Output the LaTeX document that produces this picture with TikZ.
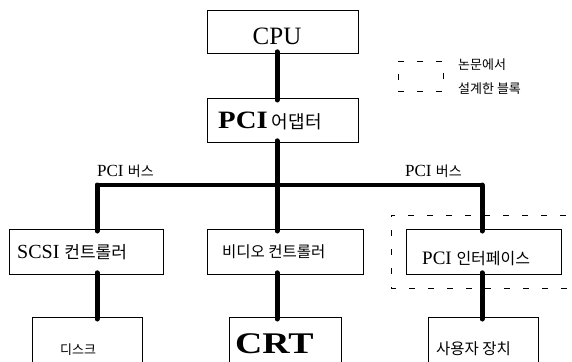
\documentclass[tikz,border=0pt]{standalone}
\usepackage{fontspec}
\setmainfont{Liberation Serif}
\newfontfamily\kr{Noto Sans CJK KR}
\begin{document}
\begin{tikzpicture}[x=1pt,y=-1pt,
  box/.style={draw,line width=0.8pt,inner sep=0pt,anchor=north west},
  txt/.style={inner sep=0pt,anchor=base west},
  vbus/.style={line width=5pt,line cap=round},
  hbus/.style={line width=4pt,line cap=round,line join=round},
  dbox/.style={line width=0.7pt,dash pattern=on 6pt off 13pt}]
\useasboundingbox (0,0) rectangle (572,361);
\clip (0,0) rectangle (572,361);
% boxes
\node[box,minimum width=151pt,minimum height=43pt] (cpu) at (207,10) {};
\node[box,minimum width=151pt,minimum height=44pt] (adp) at (207,98) {};
\node[box,minimum width=154pt,minimum height=45pt] (scsi) at (9,229) {};
\node[box,minimum width=156pt,minimum height=45pt] (vid) at (207,229) {};
\node[box,minimum width=155pt,minimum height=45pt] (pif) at (406,229) {};
\node[box,minimum width=110pt,minimum height=60pt] (disk) at (32,317) {};
\node[box,minimum width=112pt,minimum height=60pt] (crt) at (229,317) {};
\node[box,minimum width=110pt,minimum height=60pt] (usr) at (428,317) {};
% texts
\node[inner sep=0pt,anchor=base] (tcpu) at (277,45) {\fontsize{25}{25}\selectfont CPU};
\node[txt] (tadp) at (218,128) {\fontsize{25}{25}\selectfont\scalebox{1.15}[1]{\bfseries PCI}\,{\kr\fontsize{18}{18}\selectfont 어댑터}};
\node[txt] (tscsi) at (17,258) {\fontsize{20}{20}\selectfont SCSI {\kr\fontsize{17}{17}\selectfont 컨트롤러}};
\node[txt] (tvid) at (222,257) {\kr\fontsize{15.5}{15.5}\selectfont 비디오 컨트롤러};
\node[txt] (tpif) at (422,264) {\fontsize{19}{19}\selectfont PCI {\kr\fontsize{16}{16}\selectfont 인터페이스}};
\node[txt] (tdisk) at (60,354) {\kr\fontsize{13}{13}\selectfont 디스크};
\node[txt] (tcrt) at (235,353) {\fontsize{30}{30}\selectfont\scalebox{1.26}[1]{\bfseries CRT}};
\node[txt] (tusr) at (436,354) {\kr\fontsize{15.5}{15.5}\selectfont 사용자 장치};
\node[txt] (tbusl) at (97,176) {\fontsize{17}{17}\selectfont PCI {\kr\fontsize{14}{14}\selectfont 버스}};
\node[txt] (tbusr) at (405,176) {\fontsize{17}{17}\selectfont PCI {\kr\fontsize{14}{14}\selectfont 버스}};
% legend
\node[draw,dbox,inner sep=0pt,minimum width=45pt,minimum height=30pt,anchor=north west] (leg) at (398,61) {};
\node[txt] (leg1) at (458,70) {\kr\fontsize{13}{13}\selectfont 논문에서};
\node[txt] (leg2) at (458,93) {\kr\fontsize{13}{13}\selectfont 설계한 블록};
% designed block dashed frame
\coordinate (dtl) at (391,215);
\coordinate (dbr) at (585,288);
\draw[dbox] (dbr |- dtl) -- (dtl) -- (dtl |- dbr) -- (dbr);
% bus coordinates
\coordinate (bl) at (97,185);
\coordinate (bc) at (277,185);
\coordinate (br) at (482,185);
% connectors
\draw[vbus] ([yshift=2pt]cpu.south -| bc) -- ([yshift=-2pt]adp.north -| bc);
\draw[vbus] ([yshift=2pt]adp.south -| bc) -- ([yshift=-2pt]vid.north -| bc);
\draw[hbus] (bl) -- (br);
\draw[vbus] (bl) -- ([yshift=-2pt]scsi.north -| bl);
\draw[vbus] (br) -- ([yshift=-2pt]pif.north -| br);
\draw[vbus] ([yshift=2pt]scsi.south -| bl) -- ([yshift=-2pt]disk.north -| bl);
\draw[vbus] ([yshift=2pt]vid.south -| bc) -- ([yshift=-2pt]crt.north -| bc);
\draw[vbus] ([yshift=2pt]pif.south -| br) -- ([yshift=-2pt]usr.north -| br);
\end{tikzpicture}
\end{document}
